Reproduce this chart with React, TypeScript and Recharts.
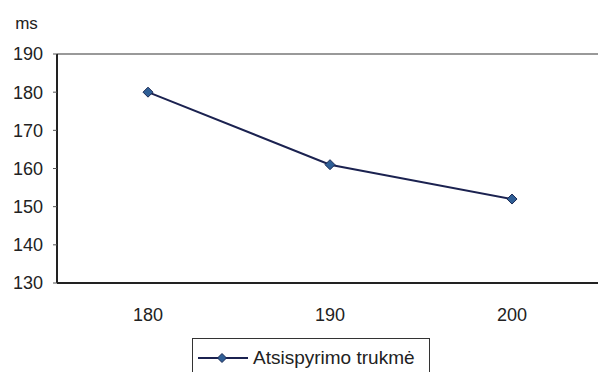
import { LineChart, Line, XAxis, YAxis, ReferenceLine, Legend } from "recharts";

const categories = ["180", "190", "200"];
const durationValues = [180, 161, 152];
const yTicks = [130, 140, 150, 160, 170, 180, 190];
const seriesName = "Atsispyrimo trukmė";

const data = categories.map((c, i) => ({ x: c, value: durationValues[i] }));

const font = "'Liberation Sans', Arial, sans-serif";

function Diamond(props: any) {
  const { cx, cy } = props;
  if (cx == null || cy == null) return null;
  const r = 5;
  return (
    <path
      d={`M${cx},${cy - r} L${cx + r},${cy} L${cx},${cy + r} L${cx - r},${cy} Z`}
      fill="#2f5f96"
      stroke="#1b2a55"
      strokeWidth={1}
    />
  );
}

function LegendBox() {
  return (
    <div
      style={{
        border: "1px solid #333",
        width: 238,
        height: 40,
        boxSizing: "border-box",
        display: "flex",
        alignItems: "center",
        paddingLeft: 5,
        fontFamily: font,
        fontSize: 19,
        color: "#222",
        background: "#fff",
      }}
    >
      <svg width={50} height={12} style={{ marginRight: 5 }}>
        <line x1={0} y1={6} x2={50} y2={6} stroke="#1b2250" strokeWidth={2} />
        <path d="M24,1.5 L28.5,6 L24,10.5 L19.5,6 Z" fill="#2f5f96" stroke="#1b2a55" />
      </svg>
      <span>{seriesName}</span>
    </div>
  );
}

export default function App() {
  return (
    <div style={{ position: "fixed", left: 0, top: 0, width: 598, height: 372, overflow: "hidden", background: "#fff" }}>
      <LineChart width={606} height={372} data={data} margin={{ top: 54, right: 3, left: 0, bottom: 0 }}>
        <XAxis
          dataKey="x"
          height={89}
          padding={{ left: 91, right: 91 }}
          axisLine={{ stroke: "#222", strokeWidth: 2 }}
          tickLine={false}
          tick={{ fontSize: 18, fill: "#222", fontFamily: font }}
          tickMargin={19}
        />
        <YAxis
          width={57}
          domain={[130, 190]}
          ticks={yTicks}
          interval={0}
          axisLine={{ stroke: "#222", strokeWidth: 2 }}
          tickLine={{ stroke: "#555" }}
          tickSize={4}
          tickMargin={10}
          tick={{ fontSize: 18, fill: "#222", fontFamily: font }}
          label={{ value: "ms", position: "top", offset: 25, dx: -2, fontSize: 17, fill: "#222", fontFamily: font }}
        />
        <ReferenceLine y={190} stroke="#777" strokeWidth={1.5} />
        <Legend
          layout="vertical"
          align="center"
          verticalAlign="middle"
          wrapperStyle={{ left: 192, top: 338, width: 238 }}
          content={() => <LegendBox />}
        />
        <Line
          type="linear"
          dataKey="value"
          name={seriesName}
          stroke="#1b2250"
          strokeWidth={2}
          dot={<Diamond />}
          activeDot={false}
          isAnimationActive={false}
        />
      </LineChart>
    </div>
  );
}
